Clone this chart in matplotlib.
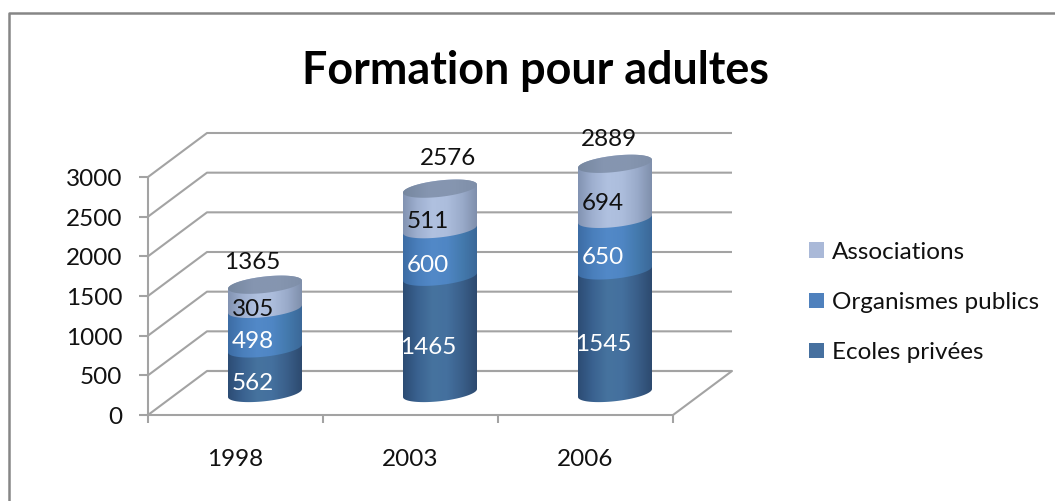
import numpy as np
import matplotlib
matplotlib.use("Agg")
import matplotlib.pyplot as plt
from matplotlib.colors import LinearSegmentedColormap
from matplotlib.lines import Line2D
from matplotlib.patches import Patch, Polygon

categories = ["1998", "2003", "2006"]
series_names = ["Ecoles privées", "Organismes publics", "Associations"]
ecoles = [562, 1465, 1545]
organismes = [498, 600, 650]
associations = [305, 511, 694]
totals = [1365, 2576, 2889]
y_ticks = [0, 500, 1000, 1500, 2000, 2500, 3000]

# Layout and style (pixels of the 1055x501 picture)
W, H = 1055, 501
PX_X = 1 / 175
PX_Y = 3000 / 238
X0, Y0 = 148, 415
DX, DY = 59 * PX_X, 44 * PX_Y
A, B, TILT = 37 * PX_X, 8.2 * PX_Y, 4 * PX_Y
GRID = "#a3a3a3"
FS = 17.5
total_offsets = [(-13, 22), (8, 30), (-6, 24)]
ramps = [
    ["#2c4c74", "#3a6290", "#46739f", "#44709e", "#3a5f8a", "#2d4a6f"],
    ["#3c6ca4", "#4a7fbc", "#5289c8", "#4f86c4", "#447aae", "#3b6898"],
    ["#8293b2", "#9fb0d0", "#b0c1e0", "#acbddc", "#9aabca", "#7f8fac"],
]
top_ramp = ["#76879f", "#8595b0", "#8696b0", "#7f8fa9"]

plt.rcParams["font.family"] = ["Lato", "DejaVu Sans"]
fig = plt.figure(figsize=(W / 100, H / 100), dpi=100, facecolor="white")
ax = fig.add_axes([0, 0, 1, 1])
ax.axis("off")
xlim = (-X0 * PX_X, (W - X0) * PX_X)
ylim = ((Y0 - H) * PX_Y, Y0 * PX_Y)


def grid_line(xs, ys, z=1):
    ax.plot(xs, ys, color=GRID, lw=1.5, zorder=z, solid_capstyle="butt")


n = len(categories)
for v in y_ticks:
    if v > 0:
        grid_line([0, DX, n + DX], [v, v + DY, v + DY])
    grid_line([-9 * PX_X, 0], [v, v])
    ax.text(-25.5 * PX_X, v - 2.5 * PX_Y, str(v), ha="right", va="center", fontsize=FS, color="#111111")
grid_line([0, DX, n + DX, n, 0, 0], [0, DY, DY, 0, 0, y_ticks[-1]])
grid_line([DX, n + DX], [DY, DY])
for i in range(n + 1):
    grid_line([i, i], [0, -8 * PX_Y])
for i, c in enumerate(categories):
    ax.text(i + 0.5, -44 * PX_Y, c, ha="center", va="center", fontsize=FS, color="#111111")


def ellipse(cx, cy, t):
    return cx + A * np.cos(t), cy + B * np.sin(t) + TILT * np.cos(t)


def gradient(cx, cy_low, cy_high, colors, path_xy, z):
    cmap = LinearSegmentedColormap.from_list("c", colors)
    img = ax.imshow(np.linspace(0, 1, 256)[None, :], cmap=cmap, aspect="auto", zorder=z,
                    extent=(cx - A, cx + A, cy_low - 2 * B, cy_high + 2 * B),
                    interpolation="bilinear")
    poly = Polygon(path_xy, closed=True, transform=ax.transData, fc="none", ec="none")
    ax.add_patch(poly)
    img.set_clip_path(poly)


base = np.zeros(n)
for k, vals in enumerate([ecoles, organismes, associations]):
    for i, v in enumerate(vals):
        cx = i + 0.5 + DX / 2
        low = base[i] + DY / 2
        high = low + v
        lower = ellipse(cx, low, np.linspace(np.pi, 2 * np.pi, 60))
        upper = ellipse(cx, high, np.linspace(0, np.pi, 60))
        xy = np.column_stack([np.r_[lower[0], upper[0]], np.r_[lower[1], upper[1]]])
        gradient(cx, low, high, ramps[k], xy, 3 + k)
        ax.text(cx - 12 * PX_X, low + v / 2 - 12.5 * PX_Y, str(v), ha="center", va="center",
                fontsize=FS, color="#111111" if k == 2 else "white", zorder=10)
    base += np.array(vals)

for i, t in enumerate(totals):
    cx = i + 0.5 + DX / 2
    top = t + DY / 2
    rim = ellipse(cx, top, np.linspace(0, 2 * np.pi, 120))
    gradient(cx, top, top, top_ramp, np.column_stack(rim), 8)
    ox, oy = total_offsets[i]
    ax.text(cx + ox * PX_X, top + oy * PX_Y, str(t), ha="center", va="center",
            fontsize=FS, color="#111111", zorder=10)

ax.set_xlim(xlim)
ax.set_ylim(ylim)

ax.text(535 / W, 1 - 71 / H, "Formation pour adultes", transform=ax.transAxes, ha="center",
        va="center", fontsize=32.3, fontweight="bold", color="black")

legend_colors = ["#46709f", "#4f81bd", "#aab9d8"]
handles = [Patch(fc=c, ec="none", label=s) for c, s in zip(legend_colors, series_names)][::-1]
ax.legend(handles=handles, frameon=False, loc="center left", fontsize=FS,
          bbox_to_anchor=(802 / W, 1 - 302.5 / H), bbox_transform=ax.transAxes,
          handlelength=0.62, handleheight=0.62, handletextpad=0.33, labelspacing=1.2,
          labelcolor="#111111", borderpad=0.3, borderaxespad=0)

frame = "#868686"
fig.add_artist(Line2D([8.5 / W, 8.5 / W, 1], [0, 1 - 13 / H, 1 - 13 / H], color=frame, lw=1.8,
                      transform=fig.transFigure))

fig.savefig("out.png", dpi=100)
